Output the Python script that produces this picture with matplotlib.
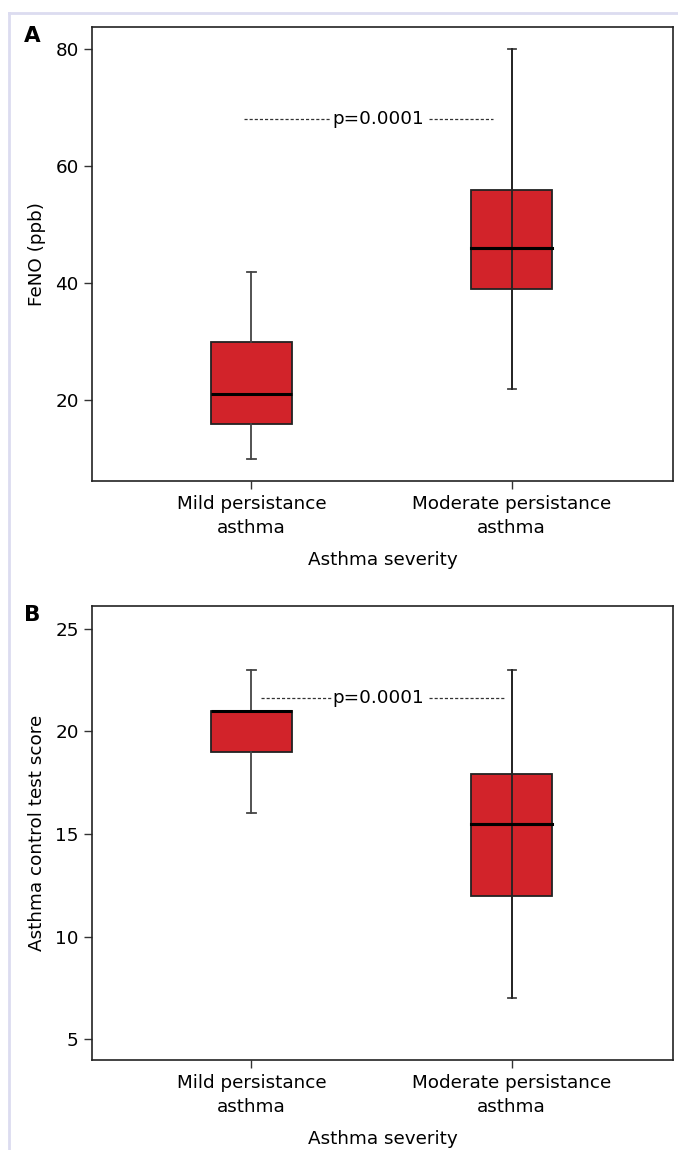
import matplotlib
matplotlib.use("Agg")
import matplotlib.pyplot as plt
from matplotlib.lines import Line2D

# data
categorias = ["Mild persistance\nasthma", "Moderate persistance\nasthma"]

feno_whislo = [10, 22]
feno_q1 = [16, 39]
feno_med = [21, 46]
feno_q3 = [30, 56]
feno_whishi = [42, 80]

act_whislo = [16, 7]
act_q1 = [19, 12]
act_med = [21, 15.5]
act_q3 = [21, 17.9]
act_whishi = [23, 23]

p_texto = "p=0.0001"
feno_p_y = 68
act_p_y = 21.6

VERMELHO = "#D2232A"
FS = 13.2
plt.rcParams["font.family"] = ["DejaVu Sans"]

fig = plt.figure(figsize=(6.78, 11.5), dpi=100)
W, H = 678, 1150

def eixo(esq, topo, dir_, base):
    return fig.add_axes([esq / W, 1 - base / H, (dir_ - esq) / W, (base - topo) / H])

def desenha(ax, lo, q1, med, q3, hi, ylim, yticks, ylabel, p_y, dash1, dash2):
    largura = 0.31
    stats = []
    for i in range(len(categorias)):
        stats.append(dict(whislo=lo[i], q1=q1[i], med=med[i], q3=q3[i], whishi=hi[i], fliers=[]))
    ax.bxp(stats, positions=[1, 2], widths=largura, patch_artist=True, showfliers=False,
           boxprops=dict(facecolor=VERMELHO, edgecolor="#222222", linewidth=1.3),
           medianprops=dict(color="black", linewidth=2.2),
           whiskerprops=dict(color="#444444", linewidth=1.3),
           capprops=dict(color="#444444", linewidth=1.3), capwidths=0.032)
    # whisker line crossing the second box
    ax.plot([2, 2], [lo[1], hi[1]], color="#222222", linewidth=1.3, zorder=4)
    ax.plot([2 - largura / 2, 2 + largura / 2], [med[1], med[1]], color="black", linewidth=2.2, zorder=5)
    ax.set_xlim(0.387, 2.62)
    ax.set_ylim(*ylim)
    ax.set_yticks(yticks)
    ax.set_xticks([1, 2])
    ax.set_xticklabels(categorias, fontsize=FS, linespacing=1.45)
    ax.tick_params(axis="both", labelsize=FS, length=6, width=1, color="#333333")
    ax.tick_params(axis="x", pad=4)
    ax.set_ylabel(ylabel, fontsize=FS, labelpad=7)
    ax.set_xlabel("Asthma severity", fontsize=FS, labelpad=10)
    for s in ax.spines.values():
        s.set_linewidth(1.2)
        s.set_color("#222222")
    ax.plot(dash1, [p_y, p_y], color="#333333", linewidth=0.9, linestyle=(0, (2.5, 1.6)))
    ax.plot(dash2, [p_y, p_y], color="#333333", linewidth=0.9, linestyle=(0, (2.5, 1.6)))
    ax.text(1.487, p_y, p_texto, ha="center", va="center", fontsize=FS)

ax_a = eixo(92, 27, 673, 481)
desenha(ax_a, feno_whislo, feno_q1, feno_med, feno_q3, feno_whishi,
        (6.2, 83.8), [20, 40, 60, 80], "FeNO (ppb)", feno_p_y, [0.97, 1.306], [1.682, 1.927])

ax_b = eixo(92, 606, 673, 1060)
desenha(ax_b, act_whislo, act_q1, act_med, act_q3, act_whishi,
        (4.0, 26.1), [5, 10, 15, 20, 25], "Asthma control test score", act_p_y, [1.038, 1.306], [1.682, 1.969])

fig.text(32 / W, 1 - 36 / H, "A", fontsize=15.5, fontweight="bold", ha="center", va="center")
fig.text(32 / W, 1 - 615 / H, "B", fontsize=15.5, fontweight="bold", ha="center", va="center")

# light frame around the figure
fig.add_artist(Line2D([9 / W, 9 / W], [0, 1 - 13 / H], transform=fig.transFigure, color="#DCDCF0", linewidth=2))
fig.add_artist(Line2D([9 / W, 1], [1 - 13 / H, 1 - 13 / H], transform=fig.transFigure, color="#DCDCF0", linewidth=2))

fig.savefig("out.png", dpi=100)
